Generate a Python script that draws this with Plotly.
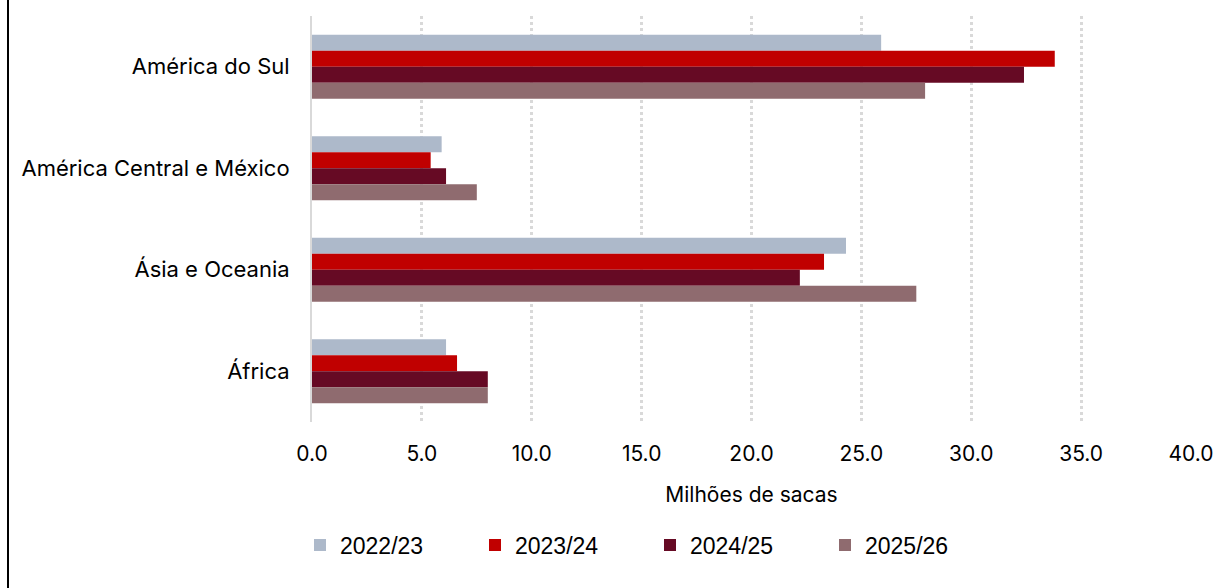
import plotly.graph_objects as go

categories = ["América do Sul", "América Central e México", "Ásia e Oceania", "África"]
series_names = ["2022/23", "2023/24", "2024/25", "2025/26"]
v_2022 = [25.9, 5.9, 24.3, 6.1]
v_2023 = [33.8, 5.4, 23.3, 6.6]
v_2024 = [32.4, 6.1, 22.2, 8.0]
v_2025 = [27.9, 7.5, 27.5, 8.0]
tick_vals = [0, 5, 10, 15, 20, 25, 30, 35, 40]
tick_text = ["0.0", "5.0", "10.0", "15.0", "20.0", "25.0", "30.0", "35.0", "40.0"]

colors = ["#ADB9CA", "#C00000", "#660A24", "#8F6B6F"]
values = [v_2022, v_2023, v_2024, v_2025]

fig = go.Figure()
for name, vals, col in zip(series_names, values, colors):
    fig.add_trace(go.Bar(
        y=categories, x=vals, name=name, orientation="h",
        marker=dict(color=col, line=dict(width=0)),
    ))

W, H = 1216, 588
ml, mr, mt, mb = 312, 25, 16, 166
pw = W - ml - mr
ph = H - mt - mb

fig.update_layout(
    width=W, height=H,
    margin=dict(l=ml, r=mr, t=mt, b=mb, autoexpand=False),
    barmode="group", bargap=0.37, bargroupgap=0,
    plot_bgcolor="white", paper_bgcolor="white",
    font=dict(family="Inter, Open Sans, sans-serif", size=21, color="#000000"),
    xaxis=dict(
        range=[0, 40], tickvals=tick_vals, ticktext=tick_text,
        showgrid=True, gridcolor="#D9D9D9", griddash="dot", gridwidth=3,
        zeroline=False, showline=False, ticks="",
        tickfont=dict(size=21), automargin=False, ticklabelstandoff=17,
        title=dict(text="Milhões de sacas", font=dict(size=21), standoff=22),
    ),
    yaxis=dict(
        autorange="reversed", showgrid=False, zeroline=False,
        showline=True, linecolor="#D9D9D9", linewidth=2, automargin=False,
        ticks="", ticklabelstandoff=16, tickfont=dict(size=22),
    ),
    legend=dict(
        orientation="h", x=-12 / pw, xanchor="left", y=-(545 - 422) / ph, yanchor="middle",
        traceorder="normal", entrywidth=130, entrywidthmode="pixels",
        font=dict(family="Liberation Sans, Arial, sans-serif", size=23),
        itemwidth=30,
    ),
    shapes=[dict(
        type="line", xref="paper", yref="paper",
        x0=(8 - ml) / pw, x1=(8 - ml) / pw, y0=-mb / ph, y1=1 + mt / ph,
        line=dict(color="black", width=2),
    )],
)

fig.write_html("out.html")
